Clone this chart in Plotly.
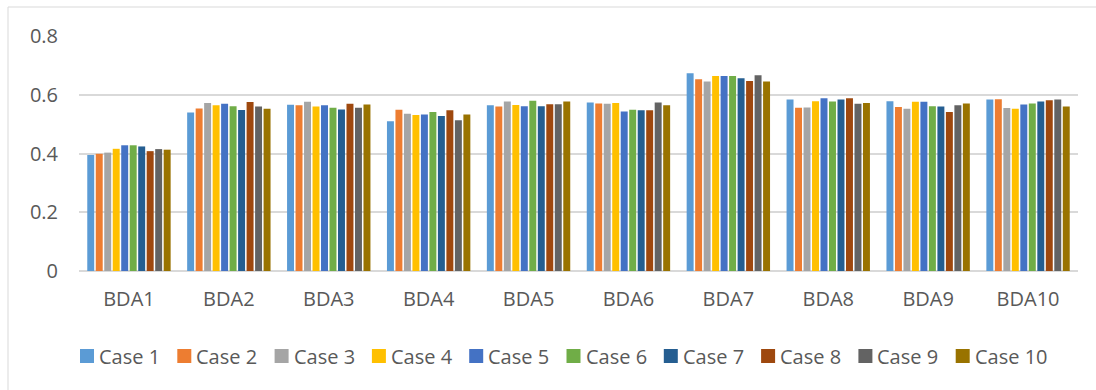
import plotly.graph_objects as go

categories = ["BDA1", "BDA2", "BDA3", "BDA4", "BDA5", "BDA6", "BDA7", "BDA8", "BDA9", "BDA10"]
case_names = ["Case 1", "Case 2", "Case 3", "Case 4", "Case 5",
              "Case 6", "Case 7", "Case 8", "Case 9", "Case 10"]

case_1 = [0.395, 0.540, 0.566, 0.510, 0.564, 0.574, 0.673, 0.584, 0.578, 0.584]
case_2 = [0.399, 0.553, 0.564, 0.549, 0.560, 0.570, 0.653, 0.556, 0.558, 0.585]
case_3 = [0.403, 0.572, 0.576, 0.535, 0.577, 0.569, 0.645, 0.557, 0.552, 0.555]
case_4 = [0.416, 0.564, 0.560, 0.531, 0.565, 0.572, 0.664, 0.578, 0.576, 0.552]
case_5 = [0.428, 0.569, 0.564, 0.533, 0.561, 0.543, 0.664, 0.588, 0.576, 0.567]
case_6 = [0.428, 0.561, 0.556, 0.541, 0.580, 0.549, 0.664, 0.577, 0.561, 0.570]
case_7 = [0.424, 0.548, 0.550, 0.528, 0.561, 0.547, 0.656, 0.584, 0.560, 0.577]
case_8 = [0.408, 0.575, 0.569, 0.547, 0.568, 0.547, 0.647, 0.588, 0.541, 0.581]
case_9 = [0.415, 0.560, 0.556, 0.513, 0.568, 0.574, 0.666, 0.569, 0.564, 0.584]
case_10 = [0.413, 0.552, 0.567, 0.533, 0.577, 0.564, 0.645, 0.572, 0.570, 0.560]

series = [case_1, case_2, case_3, case_4, case_5, case_6, case_7, case_8, case_9, case_10]
colors = ["#5B9BD5", "#ED7D31", "#A5A5A5", "#FFC000", "#4472C4",
          "#70AD47", "#255E91", "#9E480E", "#636363", "#997300"]

FONT = "Open Sans"
TEXT = "#595959"
FSIZE = 20

fig = go.Figure()
for name, vals, col in zip(case_names, series, colors):
    fig.add_trace(go.Bar(
        x=categories, y=vals, name=name, showlegend=False,
        marker=dict(color=col, line=dict(width=0)),
    ))

W, H = 1096, 390
ml, mr, mt, mb = 79, 18, 36, 119
pw, ph = W - ml - mr, H - mt - mb


def px_x(x):
    return (x - ml) / pw


def px_y(y):
    return (H - mb - y) / ph


# outer chart frame (left and top edges visible)
fig.add_shape(type="rect", xref="paper", yref="paper",
              x0=px_x(8), x1=px_x(W + 20), y0=px_y(H + 20), y1=px_y(7),
              line=dict(color="#d9d9d9", width=1), fillcolor="rgba(0,0,0,0)",
              layer="below")

# legend row: colour square + label per case
leg_x0, leg_step, leg_yc, sq = 80, 97.3, 356, 14
for i, (name, col) in enumerate(zip(case_names, colors)):
    lx = leg_x0 + i * leg_step
    fig.add_shape(type="rect", xref="paper", yref="paper",
                  x0=px_x(lx), x1=px_x(lx + sq),
                  y0=px_y(leg_yc + sq / 2), y1=px_y(leg_yc - sq / 2),
                  line=dict(width=0), fillcolor=col)
    fig.add_annotation(xref="paper", yref="paper", x=px_x(lx + sq + 3),
                       y=px_y(leg_yc), xanchor="left", yanchor="middle",
                       text=name, showarrow=False,
                       font=dict(family=FONT, size=FSIZE, color=TEXT))

fig.update_layout(
    width=W, height=H,
    margin=dict(l=ml, r=mr, t=mt, b=mb, pad=0),
    paper_bgcolor="white", plot_bgcolor="white",
    barmode="group", bargap=0.15, bargroupgap=0.18,
    font=dict(family=FONT, size=FSIZE, color=TEXT),
    showlegend=False,
    xaxis=dict(showgrid=False, showline=False, zeroline=False, ticks="",
               ticklabelstandoff=14,
               tickfont=dict(family=FONT, size=FSIZE, color=TEXT)),
    yaxis=dict(range=[0, 0.8], tickvals=[0, 0.2, 0.4, 0.6, 0.8],
               ticktext=["0", "0.2", "0.4", "0.6", "0.8"],
               showgrid=True, gridcolor="#d9d9d9", gridwidth=1.5,
               zeroline=True, zerolinecolor="#d9d9d9", zerolinewidth=1.5,
               showline=False, ticks="", ticklabelstandoff=20,
               tickfont=dict(family=FONT, size=FSIZE, color=TEXT)),
)

fig.write_html("out.html")
